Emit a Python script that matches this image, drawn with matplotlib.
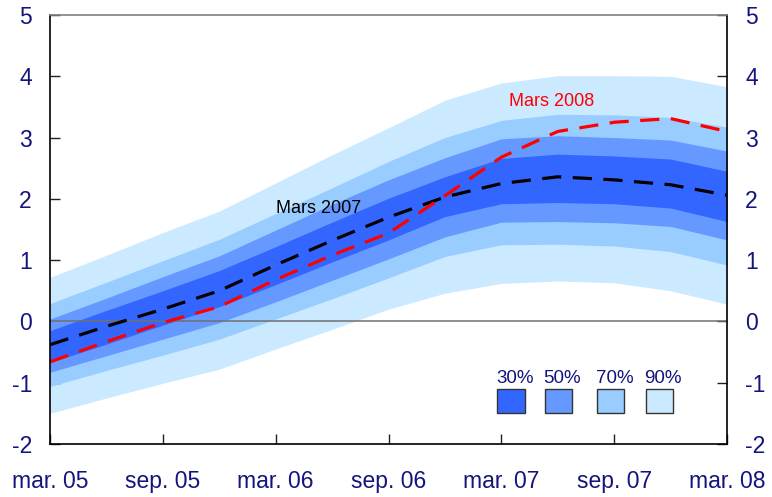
import matplotlib
matplotlib.use("Agg")
import matplotlib.pyplot as plt
from matplotlib.patches import Rectangle

plt.rcParams['font.family'] = ['Liberation Sans', 'DejaVu Sans']
plt.rcParams['axes.unicode_minus'] = False

# Quarterly points, mar.05 .. mar.08
quarters = list(range(13))
tick_pos = [0, 2, 4, 6, 8, 10, 12]
tick_labels = ["mar. 05", "sep. 05", "mar. 06", "sep. 06", "mar. 07", "sep. 07", "mar. 08"]

# Fan bands (upper / lower edges)
p90_hi = [0.72, 1.08, 1.45, 1.80, 2.26, 2.72, 3.16, 3.61, 3.89, 4.01, 4.01, 4.00, 3.83]
p70_hi = [0.29, 0.64, 0.99, 1.34, 1.76, 2.18, 2.61, 3.00, 3.28, 3.38, 3.37, 3.33, 3.17]
p50_hi = [0.04, 0.38, 0.73, 1.07, 1.49, 1.91, 2.31, 2.67, 2.98, 3.03, 3.00, 2.96, 2.78]
p30_hi = [-0.15, 0.18, 0.50, 0.83, 1.22, 1.62, 2.01, 2.36, 2.66, 2.73, 2.70, 2.65, 2.45]
p30_lo = [-0.67, -0.37, -0.06, 0.24, 0.60, 0.97, 1.33, 1.71, 1.92, 1.94, 1.92, 1.85, 1.63]
p50_lo = [-0.83, -0.56, -0.29, -0.02, 0.32, 0.67, 1.02, 1.38, 1.62, 1.63, 1.61, 1.55, 1.33]
p70_lo = [-1.06, -0.80, -0.55, -0.29, 0.04, 0.37, 0.71, 1.06, 1.25, 1.26, 1.23, 1.14, 0.92]
p90_lo = [-1.50, -1.25, -1.01, -0.78, -0.45, -0.13, 0.20, 0.46, 0.62, 0.66, 0.63, 0.50, 0.28]

# Forecast paths
mars_2007 = [-0.38, -0.08, 0.20, 0.50, 0.92, 1.32, 1.70, 2.03, 2.25, 2.36, 2.31, 2.23, 2.06]
mars_2008 = [-0.66, -0.33, -0.02, 0.24, 0.68, 1.08, 1.44, 2.05, 2.68, 3.10, 3.25, 3.31, 3.10]

band_labels = ["30%", "50%", "70%", "90%"]
c30, c50, c70, c90 = "#3366ff", "#6699ff", "#99ccff", "#cceaff"
navy = "#14147d"

fig = plt.figure(figsize=(7.72, 4.97), dpi=100)
ax = fig.add_axes([50/772, 53/497, 677/772, 429/497])

ax.fill_between(quarters, p90_lo, p90_hi, color=c90, lw=0, zorder=1)
ax.fill_between(quarters, p70_lo, p70_hi, color=c70, lw=0, zorder=2)
ax.fill_between(quarters, p50_lo, p50_hi, color=c50, lw=0, zorder=3)
ax.fill_between(quarters, p30_lo, p30_hi, color=c30, lw=0, zorder=4)

ax.axhline(0, color="#707070", lw=1.1, zorder=5)

l1, = ax.plot(quarters, mars_2007, color="black", lw=2.3, zorder=6)
l1.set_dashes((6, 3.6))
l2, = ax.plot(quarters, mars_2008, color="#ff0000", lw=2.3, zorder=7)
l2.set_dashes((6, 3.6))

ax.text(4.0, 1.85, "Mars 2007", color="black", fontsize=13, ha="left", va="center", zorder=8)
ax.text(8.13, 3.59, "Mars 2008", color="#ff0000", fontsize=13, ha="left", va="center", zorder=8)

ax.set_xlim(0, 12)
ax.set_ylim(-2, 5)
ax.set_xticks(tick_pos)
ax.set_xticklabels(tick_labels)
ax.set_yticks(range(-2, 6))
ax.tick_params(axis="x", direction="in", length=7, width=1, pad=19, labelsize=16.5,
               labelcolor=navy, color="#202020")
ax.tick_params(axis="y", direction="in", length=7, width=1, pad=13, labelsize=16.5,
               labelcolor=navy, color="#202020", left=True, right=True,
               labelleft=True, labelright=True)

for side in ["left", "right", "bottom"]:
    ax.spines[side].set_color("black")
    ax.spines[side].set_linewidth(1.2)
ax.spines["top"].set_color("#808080")
ax.spines["top"].set_linewidth(1.2)
for s in ax.spines.values():
    s.set_zorder(10)

# Legend boxes
colors = [c30, c50, c70, c90]
box_x = [0.661, 0.731, 0.808, 0.880]
bw, bh, by = 0.0399, 0.056, 0.0716
for x0, col, lab in zip(box_x, colors, band_labels):
    ax.add_patch(Rectangle((x0, by), bw, bh, transform=ax.transAxes,
                           facecolor=col, edgecolor="#333333", lw=1.0, zorder=9))
    ax.text(x0 - 0.002, 0.143, lab, transform=ax.transAxes, color=navy,
            fontsize=13.5, ha="left", va="baseline", zorder=9)

fig.savefig("out.png", dpi=100)
